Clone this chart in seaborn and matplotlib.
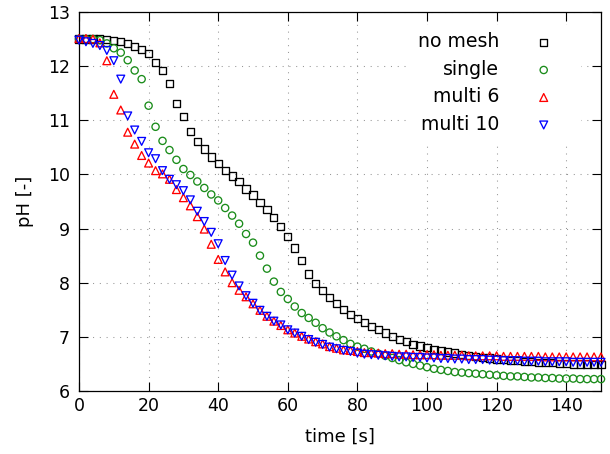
import numpy as np
import pandas as pd
import matplotlib
matplotlib.use("Agg")
import matplotlib.pyplot as plt
import seaborn as sns

# ---------------- data ----------------
time_s = list(range(0, 152, 2))

no_mesh = [12.50, 12.50, 12.50, 12.50, 12.49, 12.48, 12.46, 12.42, 12.36, 12.31,
           12.23, 12.07, 11.92, 11.68, 11.31, 11.07, 10.80, 10.61, 10.47, 10.32,
           10.20, 10.07, 9.97, 9.87, 9.73, 9.62, 9.48, 9.35, 9.21, 9.04,
           8.85, 8.64, 8.41, 8.16, 7.99, 7.85, 7.73, 7.61, 7.50, 7.42,
           7.34, 7.27, 7.19, 7.14, 7.07, 7.01, 6.95, 6.91, 6.86, 6.83,
           6.80, 6.77, 6.75, 6.72, 6.70, 6.68, 6.66, 6.64, 6.62, 6.61,
           6.59, 6.58, 6.57, 6.56, 6.55, 6.54, 6.53, 6.52, 6.52, 6.51,
           6.51, 6.50, 6.50, 6.50, 6.49, 6.49]

single = [12.50, 12.50, 12.50, 12.48, 12.42, 12.33, 12.25, 12.11, 11.92, 11.76,
          11.27, 10.88, 10.62, 10.45, 10.27, 10.10, 9.99, 9.87, 9.75, 9.63,
          9.52, 9.38, 9.24, 9.09, 8.90, 8.74, 8.50, 8.26, 8.02, 7.83,
          7.70, 7.56, 7.44, 7.35, 7.26, 7.16, 7.08, 7.01, 6.94, 6.87,
          6.82, 6.78, 6.73, 6.69, 6.65, 6.61, 6.57, 6.53, 6.50, 6.47,
          6.44, 6.41, 6.39, 6.37, 6.35, 6.34, 6.33, 6.32, 6.31, 6.30,
          6.29, 6.28, 6.27, 6.27, 6.26, 6.25, 6.25, 6.24, 6.24, 6.23,
          6.23, 6.23, 6.22, 6.22, 6.22, 6.22]

multi6 = [12.51, 12.51, 12.50, 12.43, 12.10, 11.48, 11.19, 10.78, 10.56, 10.35,
          10.21, 10.07, 10.01, 9.91, 9.72, 9.57, 9.42, 9.22, 8.99, 8.71,
          8.43, 8.20, 8.00, 7.86, 7.74, 7.61, 7.49, 7.38, 7.29, 7.21,
          7.13, 7.07, 7.01, 6.96, 6.91, 6.87, 6.82, 6.79, 6.76, 6.75,
          6.73, 6.71, 6.71, 6.70, 6.69, 6.69, 6.68, 6.68, 6.67, 6.67,
          6.67, 6.67, 6.66, 6.66, 6.66, 6.66, 6.65, 6.65, 6.65, 6.65,
          6.65, 6.64, 6.64, 6.64, 6.64, 6.64, 6.64, 6.63, 6.63, 6.63,
          6.63, 6.63, 6.63, 6.63, 6.63, 6.63]

multi10 = [12.48, 12.45, 12.42, 12.38, 12.29, 12.10, 11.76, 11.08, 10.82, 10.61,
           10.40, 10.29, 10.07, 9.91, 9.81, 9.70, 9.53, 9.32, 9.13, 8.93,
           8.72, 8.41, 8.14, 7.94, 7.76, 7.62, 7.49, 7.38, 7.29, 7.22,
           7.13, 7.07, 7.01, 6.95, 6.90, 6.86, 6.81, 6.78, 6.75, 6.73,
           6.70, 6.68, 6.67, 6.66, 6.65, 6.64, 6.63, 6.63, 6.62, 6.62,
           6.61, 6.61, 6.60, 6.60, 6.59, 6.59, 6.58, 6.58, 6.58, 6.57,
           6.57, 6.56, 6.56, 6.56, 6.55, 6.55, 6.55, 6.54, 6.54, 6.54,
           6.54, 6.53, 6.53, 6.53, 6.53, 6.53]

series_names = ["no mesh", "single", "multi 6", "multi 10"]
x_ticks = [0, 20, 40, 60, 80, 100, 120, 140]
y_ticks = [6, 7, 8, 9, 10, 11, 12, 13]

# ---------------- style ----------------
sns.set_theme(style="ticks")
plt.rcParams["font.family"] = ["DejaVu Sans"]
plt.rcParams.update({
    "xtick.direction": "in", "ytick.direction": "in",
    "xtick.top": True, "ytick.right": True,
    "axes.edgecolor": "black", "axes.linewidth": 0.9,
    "xtick.color": "black", "ytick.color": "black",
    "text.color": "black", "axes.labelcolor": "black",
})

fig = plt.figure(figsize=(6.10, 4.54), dpi=100)
ax = fig.add_axes([79 / 610, 1 - 391 / 454, 522 / 610, 379 / 454])

styles = {
    "no mesh": dict(marker="s", color="black", s=27),
    "single": dict(marker="o", color="#1a8c1a", s=27),
    "multi 6": dict(marker="^", color="#ff0000", s=32),
    "multi 10": dict(marker="v", color="#0000ff", s=32),
}
values = {"no mesh": no_mesh, "single": single, "multi 6": multi6, "multi 10": multi10}

for name in series_names:
    st = styles[name]
    sns.scatterplot(x=time_s, y=values[name], marker=st["marker"], s=st["s"],
                    color=st["color"], facecolors="none", edgecolor=st["color"],
                    linewidth=0.95, label=name, ax=ax, clip_on=False, zorder=3)

ax.set_xlim(0, 150)
ax.set_ylim(6, 13)
ax.set_xticks(x_ticks)
ax.set_yticks(y_ticks)
ax.tick_params(axis="both", which="major", length=6.5, width=0.8,
               labelsize=12.5, colors="black")
ax.tick_params(axis="y", pad=6.5)
ax.tick_params(axis="x", pad=4.5)
ax.grid(True, which="major", color="#969696", linewidth=0.75,
        linestyle=(0, (1, 5.5)))
ax.set_axisbelow(True)

ax.set_xlabel("time [s]", fontsize=13, labelpad=9)
ax.set_ylabel("pH [-]", fontsize=13, labelpad=10)

# markerfirst=False puts the text left of the marker and right-aligns the texts
ax.legend(loc="upper right", bbox_to_anchor=(0.959, 0.966),
          borderaxespad=0, borderpad=0.4, markerfirst=False,
          handlelength=3.0, handletextpad=0.85, labelspacing=0.45,
          fontsize=13.6, frameon=True, fancybox=False,
          facecolor="white", edgecolor="white", framealpha=1.0)

fig.savefig("out.png", dpi=100)
